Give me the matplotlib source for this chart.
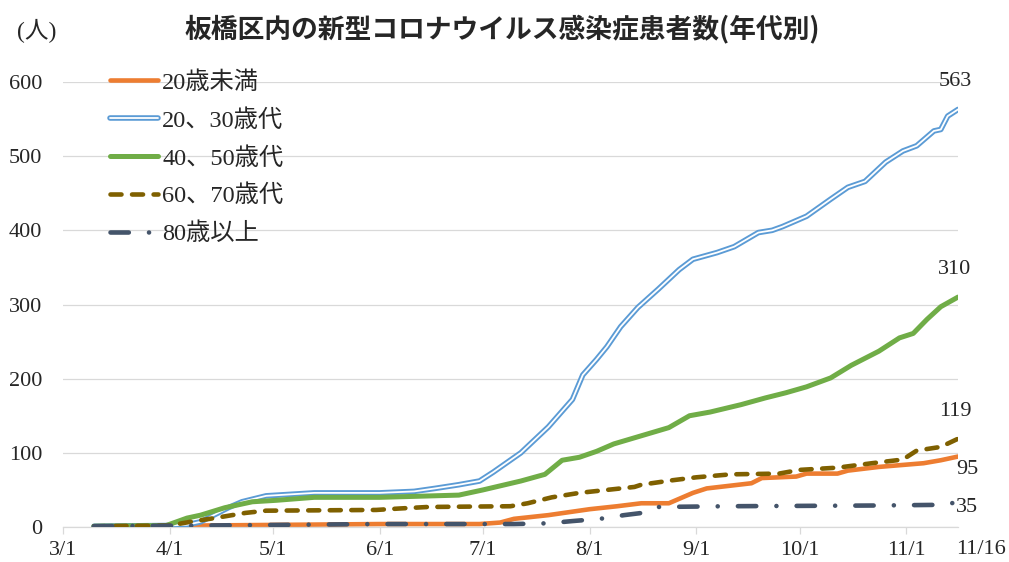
import matplotlib
matplotlib.use('Agg')
import matplotlib.pyplot as plt
import matplotlib.patheffects as pe
from matplotlib.font_manager import FontProperties
import pandas as pd

# cumulative patients by age group (Itabashi, 2020)
u20_dates = ['3/10', '4/10', '6/1', '6/30', '7/6', '7/10', '7/20', '7/26', '8/1', '8/9',
             '8/16', '8/24', '8/28', '8/31', '9/4', '9/17', '9/20', '9/30', '10/3', '10/12',
             '10/15', '10/24', '11/6', '11/11', '11/16']
u20_vals = [1, 2, 4, 4, 6, 11, 16, 20, 24, 28,
            32, 32, 40, 46, 52, 59, 66, 68, 72, 72,
            76, 81, 86, 90, 95]

a2030_dates = ['3/10', '3/31', '4/6', '4/10', '4/18', '4/22', '4/29', '5/13', '6/1', '6/11',
               '6/17', '6/24', '6/30', '7/4', '7/12', '7/20', '7/27', '7/30', '8/3', '8/6',
               '8/10', '8/15', '8/21', '8/27', '8/31', '9/7', '9/12', '9/19', '9/23', '9/26',
               '10/3', '10/10', '10/15', '10/20', '10/26', '10/31', '11/4', '11/9', '11/11',
               '11/13', '11/16']
a2030_vals = [1, 2, 3, 7, 26, 34, 42, 46, 46, 48,
              52, 57, 62, 74, 100, 135, 172, 205, 226, 243,
              270, 296, 321, 347, 361, 370, 378, 397, 400, 405,
              419, 442, 458, 466, 492, 507, 514, 534, 536,
              554, 563]

a4050_dates = ['3/10', '3/31', '4/6', '4/10', '4/17', '4/25', '5/2', '5/13', '6/1', '6/24',
               '7/1', '7/12', '7/19', '7/24', '7/29', '8/3', '8/8', '8/16', '8/24', '8/30',
               '9/5', '9/14', '9/21', '9/27', '10/3', '10/10', '10/16', '10/24', '10/30',
               '11/3', '11/7', '11/11', '11/16']
a4050_vals = [1, 2, 12, 16, 26, 34, 36, 40, 40, 43,
              50, 62, 71, 90, 94, 102, 112, 123, 134, 150,
              155, 165, 174, 181, 189, 201, 218, 237, 255,
              261, 280, 297, 310]

a6070_dates = ['3/10', '4/1', '4/7', '4/14', '4/23', '4/29', '5/31', '6/7', '6/15', '7/9',
               '7/14', '7/21', '7/29', '8/8', '8/14', '8/16', '8/25', '9/1', '9/11', '9/25',
               '10/1', '10/12', '10/22', '10/31', '11/4', '11/11', '11/16']
a6070_vals = [1, 2, 7, 12, 19, 22, 23, 25, 27, 28,
              32, 40, 46, 51, 54, 57, 63, 67, 71, 72,
              77, 80, 86, 91, 103, 108, 119]

o80_dates = ['3/10', '4/10', '6/1', '7/10', '7/20', '7/27', '8/4', '8/11', '8/18', '8/21',
             '9/10', '10/24', '11/13', '11/16']
o80_vals = [1, 2, 4, 4, 5, 8, 11, 16, 20, 27,
            28, 29, 30, 35]

month_ticks = ['3/1', '4/1', '5/1', '6/1', '7/1', '8/1', '9/1', '10/1', '11/1']


def to_dates(lst):
    return pd.to_datetime(['2020/' + d for d in lst], format='%Y/%m/%d')


serif_jp = ['Liberation Serif', 'Noto Sans CJK JP']
fp = FontProperties(family=serif_jp, size=16)
fp_leg = FontProperties(family=serif_jp, size=17.5)
txt = '#262626'

fig = plt.figure(figsize=(10.09, 5.62), dpi=100)
ax = fig.add_axes([63 / 1009, 1 - 527 / 562, 895 / 1009, 445 / 562])

orange = '#ED7D31'
blue = '#5B9BD5'
green = '#70AD47'
brown = '#7F6000'
navy = '#44546A'

# Excel draws later series on top
ax.plot(to_dates(u20_dates), u20_vals, color=orange, lw=3.3,
        solid_joinstyle='round', solid_capstyle='round', label='20歳未満', zorder=2)
ax.plot(to_dates(a2030_dates), a2030_vals, color='white', lw=1.3,
        solid_joinstyle='round', solid_capstyle='round', label='20、30歳代', zorder=3,
        path_effects=[pe.Stroke(linewidth=4.0, foreground=blue), pe.Normal()])
ax.plot(to_dates(a4050_dates), a4050_vals, color=green, lw=3.6,
        solid_joinstyle='round', solid_capstyle='round', label='40、50歳代', zorder=4)
ax.plot(to_dates(a6070_dates), a6070_vals, color=brown, lw=3.3, dashes=(2.4, 2.3),
        dash_capstyle='round', dash_joinstyle='round', label='60、70歳代', zorder=5)
ax.plot(to_dates(o80_dates), o80_vals, color=navy, lw=3.3, dashes=(4.0, 4.4, 0.01, 4.4),
        dash_capstyle='round', dash_joinstyle='round', label='80歳以上', zorder=6)

ax.set_ylim(0, 600)
ax.set_yticks(range(0, 601, 100))
ax.set_xlim(pd.Timestamp('2020-03-01'), pd.Timestamp('2020-11-16'))
ax.set_xticks(to_dates(month_ticks))
ax.set_xticklabels(month_ticks)

ax.grid(axis='y', color='#D9D9D9', lw=0.9)
ax.set_axisbelow(True)
for s in ['top', 'right', 'left']:
    ax.spines[s].set_visible(False)
ax.spines['bottom'].set_color('#D9D9D9')
ax.spines['bottom'].set_linewidth(0.9)
ax.tick_params(axis='y', length=0, pad=15)
ax.tick_params(axis='x', length=5, width=0.9, color='#D9D9D9', pad=5, direction='out')
for lab in ax.get_xticklabels() + ax.get_yticklabels():
    lab.set_fontproperties(fp)
    lab.set_color(txt)

# end label for the last date
ax.text(1.0 + 23 / 895, -22 / 445, '11/16', transform=ax.transAxes, ha='center', va='center',
        fontproperties=fp, color=txt)

# values at the end of each line
ends = [(a2030_vals[-1], 955, 82), (a4050_vals[-1], 955, 270), (a6070_vals[-1], 955, 411),
        (u20_vals[-1], 967, 470), (o80_vals[-1], 967, 508)]
for v, px, py in ends:
    fig.text(px / 1009, 1 - py / 562, str(v), ha='center', va='center',
             fontproperties=fp, color=txt)

leg = ax.legend(loc='upper left', bbox_to_anchor=(110 / 1009, 1 - 71 / 562),
                bbox_transform=fig.transFigure, frameon=False, prop=fp_leg,
                handlelength=1.98, handletextpad=0.16, labelspacing=0.63, borderpad=0,
                borderaxespad=0)
for t in leg.get_texts():
    t.set_color(txt)

fig.text(502 / 1009, 1 - 29 / 562, '板橋区内の新型コロナウイルス感染症患者数(年代別)',
         ha='center', va='center', family=['Noto Sans CJK JP'], weight='bold', size=19.3,
         color=txt)
fig.text(37 / 1009, 1 - 31 / 562, '(人)', ha='center', va='center',
         family=serif_jp, size=17, color=txt)

fig.savefig('out.png', dpi=100)
